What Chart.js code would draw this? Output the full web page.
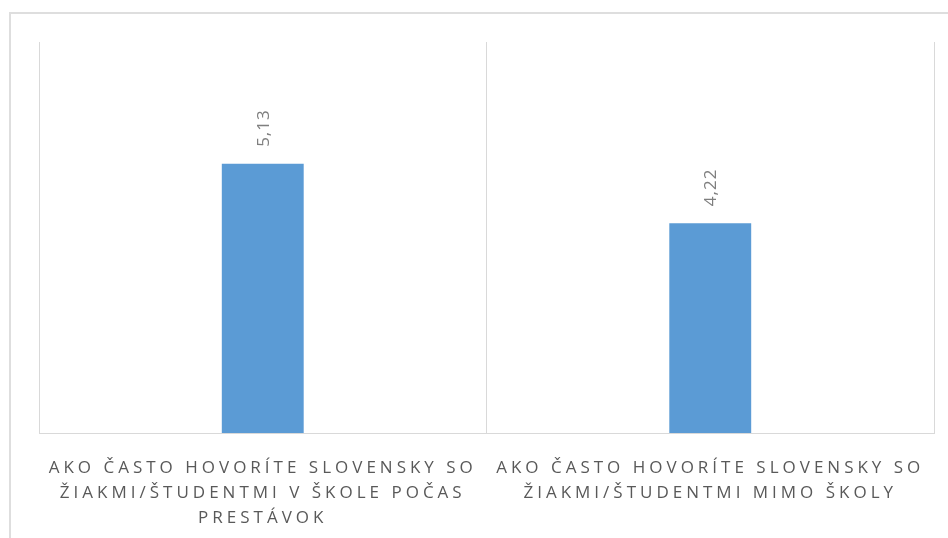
<!DOCTYPE html>
<html>
<head>
<meta charset="utf-8">
<script src="https://cdn.jsdelivr.net/npm/chart.js@4.4.1/dist/chart.umd.min.js"></script>
<style>
    html, body { margin: 0; padding: 0; background: #fff; overflow: hidden; }
    #wrap { position: relative; width: 948px; height: 538px; }
    #frame {
        position: absolute; left: 9px; top: 12px; width: 1000px; height: 600px;
        border-left: 2px solid #dedede; border-top: 2px solid #dedede;
    }
    #chart { position: absolute; left: 0; top: 0; }
</style>
</head>
<body>
<div id="wrap">
    <div id="frame"></div>
    <canvas id="chart" width="948" height="538"></canvas>
</div>
<script>
// categories (one array of lines per label)
const categories = [
    ["AKO ČASTO HOVORÍTE SLOVENSKY SO", "ŽIAKMI/ŠTUDENTMI V ŠKOLE POČAS", "PRESTÁVOK"],
    ["AKO ČASTO HOVORÍTE SLOVENSKY SO", "ŽIAKMI/ŠTUDENTMI MIMO ŠKOLY"]
];

const averages = [5.13, 4.22];

const scaleMin = 1;
const scaleMax = 7;

const LETTER_SPACING = "4px";

// spaced-out labels, like the office chart style
const spacingPlugin = {
    id: "spacing",
    beforeLayout(chart) { chart.ctx.letterSpacing = LETTER_SPACING; },
    beforeDraw(chart) { chart.ctx.letterSpacing = LETTER_SPACING; }
};

// rotated value labels above the bars
const valueLabels = {
    id: "valueLabels",
    afterDatasetsDraw(chart) {
        const ctx = chart.ctx;
        const meta = chart.getDatasetMeta(0);
        meta.data.forEach((bar, i) => {
            const text = averages[i].toFixed(2).replace(".", ",");
            ctx.save();
            ctx.letterSpacing = "1px";
            ctx.translate(bar.x, bar.y - 17);
            ctx.rotate(-Math.PI / 2);
            ctx.font = "17px 'Open Sans'";
            ctx.fillStyle = "#7f7f7f";
            ctx.textAlign = "left";
            ctx.textBaseline = "middle";
            ctx.fillText(text, 0, 1);
            ctx.restore();
        });
    }
};

new Chart(document.getElementById("chart"), {
    type: "bar",
    data: {
        labels: categories,
        datasets: [{
            data: averages,
            backgroundColor: "#5b9bd5",
            borderWidth: 0,
            categoryPercentage: 1,
            barPercentage: 0.183
        }]
    },
    options: {
        responsive: false,
        animation: false,
        layout: {
            padding: { left: 39, right: 14, top: 42, bottom: 0 }
        },
        plugins: {
            legend: { display: false },
            tooltip: { enabled: false }
        },
        scales: {
            x: {
                grid: {
                    color: "#d9d9d9",
                    lineWidth: 1,
                    drawTicks: false,
                    offset: true
                },
                border: { display: true, color: "#d9d9d9", width: 1 },
                ticks: {
                    color: "#595959",
                    font: { family: "'Open Sans'", size: 17, lineHeight: "25px" },
                    padding: 23,
                    maxRotation: 0,
                    autoSkip: false
                },
                afterFit(scale) {
                    scale.height = 105;
                    scale.paddingLeft = 0;
                    scale.paddingRight = 0;
                }
            },
            y: {
                display: false,
                min: scaleMin,
                max: scaleMax
            }
        }
    },
    plugins: [spacingPlugin, valueLabels]
});
</script>
</body>
</html>
